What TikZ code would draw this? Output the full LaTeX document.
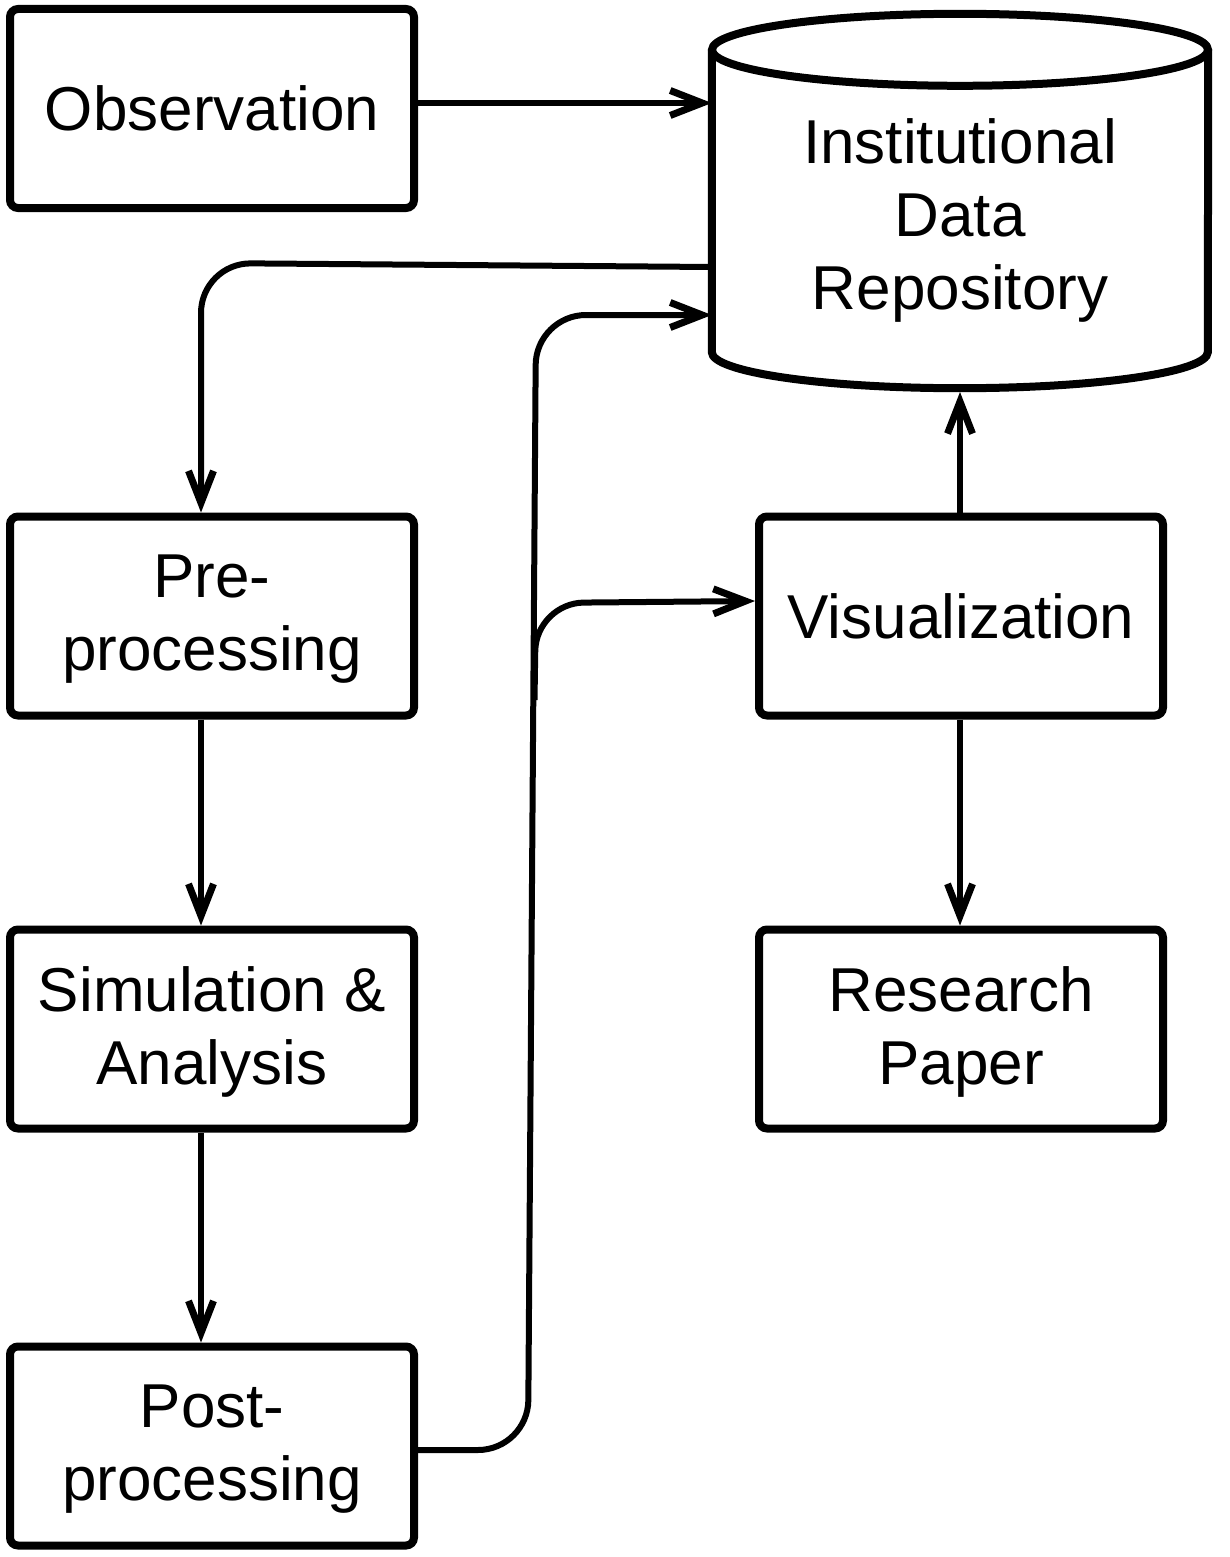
\documentclass[tikz,border=0pt]{standalone}
\usepackage{fontspec}
\setmainfont{Liberation Sans}
\usetikzlibrary{arrows.meta,calc}
\begin{document}
\begin{tikzpicture}[x=1pt,y=-1pt,
  box/.style={draw, line width=8pt, rounded corners=8pt, minimum width=404pt, minimum height=199pt, align=center, inner sep=0pt},
  lbl/.style={font=\fontsize{62}{73}\selectfont, align=center},
  low/.style={text depth=6pt},
  arr/.style={line width=6pt, -{Straight Barb[length=32pt,width=25pt,line width=7pt]}},
]
\useasboundingbox (0,0) rectangle (1229,1557);
\node[box, lbl] (obs) at (212,108.5) {Observation};
\node[box, lbl, low] (pre) at (212,616) {Pre-\\processing};
\node[box, lbl, low] (sim) at (212,1029) {Simulation \&\\Analysis};
\node[box, lbl, low] (post) at (212,1446) {Post-\\processing};
\node[box, lbl] (vis) at (961,616) {Visualization};
\node[box, lbl, low] (paper) at (961,1029) {Research\\Paper};
% cylinder
\node[minimum width=496pt, minimum height=302pt, inner sep=0pt] (repo) at (960,201) {};
\draw[line width=8pt, fill=white] (repo.north west) -- (repo.south west)
  arc[start angle=180, end angle=360, x radius=248pt, y radius=36pt] -- (repo.north east);
\draw[line width=8pt] (repo.north) ellipse [x radius=248pt, y radius=36pt];
\node[lbl] (repotext) at (960,220) {Institutional\\Data\\Repository};
% connectors
\draw[arr] (obs.east |- 0,103) -- (repo.west |- 0,103);
\draw[arr, rounded corners=50pt] (repo.west |- 0,267) -- (201,263) -- ([xshift=-11pt]pre.north);
\draw[arr] ([xshift=-11pt]pre.south) -- ([xshift=-11pt]sim.north);
\draw[arr] ([xshift=-11pt]sim.south) -- ([xshift=-11pt]post.north);
\draw[arr, rounded corners=50pt] (post.east |- 0,1450) -- (528,1450) -- (536,315) -- (repo.west |- 0,315);
\coordinate (br) at (534.5,700);
\draw[arr, rounded corners=48pt] (br) -- (536,603) -- (vis.west |- 0,601);
\draw[arr] ([xshift=-1pt]vis.north) -- ([xshift=-1pt]vis.north |- 0,392);
\draw[arr] ([xshift=-1pt]vis.south) -- ([xshift=-1pt]paper.north);
\end{tikzpicture}
\end{document}
